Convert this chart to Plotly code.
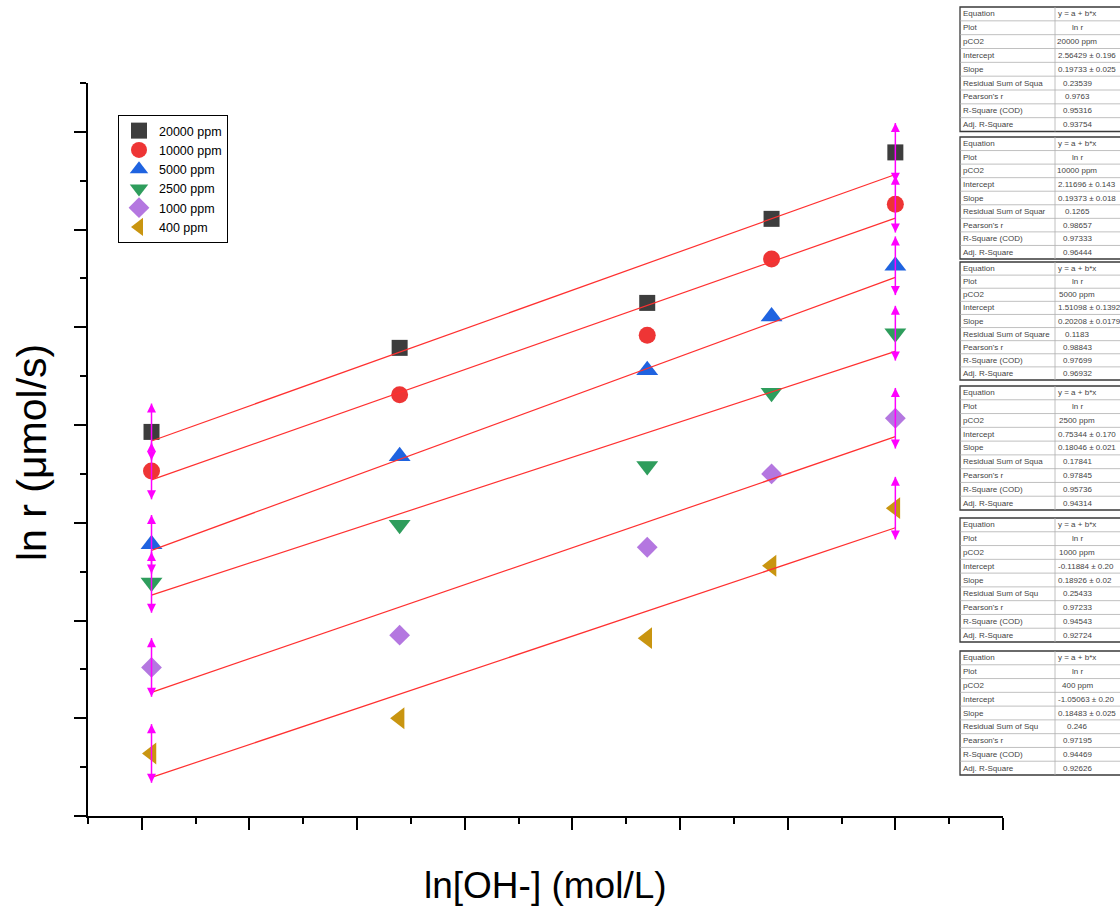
import plotly.graph_objects as go

# ---------------- data ----------------
series_names = ["20000 ppm", "10000 ppm", "5000 ppm", "2500 ppm", "1000 ppm", "400 ppm"]
ln_oh = [-13.82, -9.21, -4.61, -2.30, 0.0]
y_20000 = [-0.07, 0.79, 1.25, 2.11, 2.79]
y_10000 = [-0.47, 0.31, 0.92, 1.70, 2.26]
y_5000 = [-1.22, -0.32, 0.56, 1.11, 1.63]
y_2500 = [-1.61, -1.02, -0.42, 0.33, 0.94]
y_1000 = [-2.48, -2.15, -1.25, -0.50, 0.07]
y_400 = [-3.36, -3.00, -2.18, -1.44, -0.85]
series_values = [y_20000, y_10000, y_5000, y_2500, y_1000, y_400]
# error bars only on first and last point of each series
err_first = [0.29, 0.29, 0.30, 0.31, 0.30, 0.30]
err_last = [0.30, 0.29, 0.30, 0.28, 0.31, 0.32]

intercepts = [2.56429, 2.11696, 1.51098, 0.75344, -0.11884, -1.05063]
slopes = [0.19733, 0.19373, 0.20208, 0.18046, 0.18926, 0.18483]

table_rows = ["Equation", "Plot", "pCO2", "Intercept", "Slope", "RSS", "Pearson's r",
              "R-Square (COD)", "Adj. R-Square"]
resid_labels = ["Residual Sum of Squa", "Residual Sum of Squar", "Residual Sum of Square",
                "Residual Sum of Squa", "Residual Sum of Squ", "Residual Sum of Squ"]
intercept_txt = ["2.56429 ± 0.196", "2.11696 ± 0.143", "1.51098 ± 0.1392",
                 "0.75344 ± 0.170", "-0.11884 ± 0.20", "-1.05063 ± 0.20"]
slope_txt = ["0.19733 ± 0.025", "0.19373 ± 0.018", "0.20208 ± 0.0179",
             "0.18046 ± 0.021", "0.18926 ± 0.02", "0.18483 ± 0.025"]
rss_txt = ["0.23539", "0.1265", "0.1183", "0.17841", "0.25433", "0.246"]
pearson_txt = ["0.9763", "0.98657", "0.98843", "0.97845", "0.97233", "0.97195"]
r2_txt = ["0.95316", "0.97333", "0.97699", "0.95736", "0.94543", "0.94469"]
adjr2_txt = ["0.93754", "0.96444", "0.96932", "0.94314", "0.92724", "0.92626"]

# ---------------- style ----------------
colors = ["#3d3d3d", "#ee3535", "#1f63e0", "#2e9d5c", "#b477e0", "#c99510"]
symbols = ["square", "circle", "triangle-up", "triangle-down", "diamond", "triangle-left"]
sizes = [16, 17, 19, 19, 16, 19]
magenta = "#ff00ff"
FONT = "Liberation Sans, Arial, sans-serif"

W, H = 1120, 907
L, R, T, B = 88, 1003, 83, 816


def px_x(px):
    return (px - L) / (R - L)


def px_y(py):
    return (B - py) / (B - T)


fig = go.Figure()

# markers
for name, ys, c, s, sz in zip(series_names, series_values, colors, symbols, sizes):
    fig.add_trace(go.Scatter(x=ln_oh, y=ys, mode="markers", name=name,
                             marker=dict(symbol=s, color=c, size=sz, line=dict(width=0))))

# linear fit lines from the table parameters
x_fit = [ln_oh[0], ln_oh[-1]]
for a, b in zip(intercepts, slopes):
    fig.add_trace(go.Scatter(x=x_fit, y=[a + b * xv for xv in x_fit], mode="lines",
                             line=dict(color="#ff3030", width=1.2), showlegend=False,
                             hoverinfo="skip"))

# error bars with arrow heads
for ys, e0, e1 in zip(series_values, err_first, err_last):
    x0, x1 = ln_oh[0], ln_oh[-1]
    y0, y1 = ys[0], ys[-1]
    fig.add_trace(go.Scatter(x=[x0, x0, None, x1, x1],
                             y=[y0 - e0, y0 + e0, None, y1 - e1, y1 + e1],
                             mode="lines", line=dict(color=magenta, width=1.5),
                             showlegend=False, hoverinfo="skip"))
    fig.add_trace(go.Scatter(x=[x0, x1], y=[y0 + e0, y1 + e1], mode="markers",
                             marker=dict(symbol="arrow-up", size=9, color=magenta),
                             showlegend=False, hoverinfo="skip"))
    fig.add_trace(go.Scatter(x=[x0, x1], y=[y0 - e0, y1 - e1], mode="markers",
                             marker=dict(symbol="arrow-down", size=9, color=magenta),
                             showlegend=False, hoverinfo="skip"))

# ---------------- tables ----------------
table_tops = [7, 137, 262, 386, 518, 651]
table_bottoms = [131.5, 259, 380, 510, 642, 775]
tx_left, tx_div, tx_right = 960, 1055, 1130

shapes = []
annotations = []
for i in range(6):
    top, bot = table_tops[i], table_bottoms[i]
    rh = (bot - top) / 9.0
    shapes.append(dict(type="rect", xref="paper", yref="paper",
                       x0=px_x(tx_left), x1=px_x(tx_right), y0=px_y(bot), y1=px_y(top),
                       line=dict(color="#3a3a3a", width=1.3), fillcolor="white", layer="above"))
    for k in range(1, 9):
        yy = top + k * rh
        shapes.append(dict(type="line", xref="paper", yref="paper",
                           x0=px_x(tx_left), x1=px_x(tx_right), y0=px_y(yy), y1=px_y(yy),
                           line=dict(color="#b0b0b0", width=0.8), layer="above"))
    shapes.append(dict(type="line", xref="paper", yref="paper",
                       x0=px_x(tx_div), x1=px_x(tx_div), y0=px_y(bot), y1=px_y(top),
                       line=dict(color="#b0b0b0", width=0.8), layer="above"))
    labels = list(table_rows)
    labels[5] = resid_labels[i]
    values = ["y = a + b*x", "ln r", series_names[i], intercept_txt[i], slope_txt[i],
              rss_txt[i], pearson_txt[i], r2_txt[i], adjr2_txt[i]]
    for k in range(9):
        yc = top + (k + 0.5) * rh
        annotations.append(dict(xref="paper", yref="paper", x=px_x(tx_left + 1), y=px_y(yc),
                                text=labels[k], showarrow=False, xanchor="left",
                                yanchor="middle", font=dict(family=FONT, size=8, color="#444")))
        if k in (3, 4):
            annotations.append(dict(xref="paper", yref="paper", x=px_x(tx_div + 1), y=px_y(yc),
                                    text=values[k], showarrow=False, xanchor="left",
                                    yanchor="middle",
                                    font=dict(family=FONT, size=8, color="#444")))
        else:
            annotations.append(dict(xref="paper", yref="paper", x=px_x(1077), y=px_y(yc),
                                    text=values[k], showarrow=False, xanchor="center",
                                    yanchor="middle",
                                    font=dict(family=FONT, size=8, color="#444")))

# axis titles
annotations.append(dict(xref="paper", yref="paper", x=px_x(545), y=px_y(885),
                        text="ln[OH-] (mol/L)", showarrow=False, xanchor="center",
                        yanchor="middle", font=dict(family=FONT, size=37, color="black")))
annotations.append(dict(xref="paper", yref="paper", x=px_x(32), y=px_y(453),
                        text="ln r (μmol/s)", showarrow=False, textangle=-90,
                        xanchor="center", yanchor="middle",
                        font=dict(family=FONT, size=41, color="black")))

axis_common = dict(showgrid=False, zeroline=False, showticklabels=False,
                   showline=True, linecolor="black", linewidth=2,
                   ticks="outside", ticklen=12, tickwidth=2, tickcolor="black")

fig.update_layout(
    width=W, height=H,
    margin=dict(l=L, r=W - R, t=T, b=H - B, pad=0),
    paper_bgcolor="white", plot_bgcolor="white",
    xaxis=dict(range=[-15, 2], tickmode="linear", tick0=-14, dtick=2,
               minor=dict(dtick=1, tick0=-15, ticks="outside", ticklen=6, tickwidth=2,
                          tickcolor="black", showgrid=False),
               **axis_common),
    yaxis=dict(range=[-4, 3.5], tickmode="linear", tick0=0, dtick=1,
               minor=dict(dtick=0.5, tick0=0, ticks="outside", ticklen=6, tickwidth=2,
                          tickcolor="black", showgrid=False),
               **axis_common),
    legend=dict(x=px_x(118), y=px_y(115), xanchor="left", yanchor="top",
                bgcolor="white", bordercolor="black", borderwidth=1,
                font=dict(family=FONT, size=12.5, color="black"),
                tracegroupgap=0, itemsizing="trace"),
    shapes=shapes,
    annotations=annotations,
    showlegend=True,
)

fig.write_html("out.html", config={"displayModeBar": False},
               post_script="document.body.style.margin='0';document.body.style.overflow='hidden';")
